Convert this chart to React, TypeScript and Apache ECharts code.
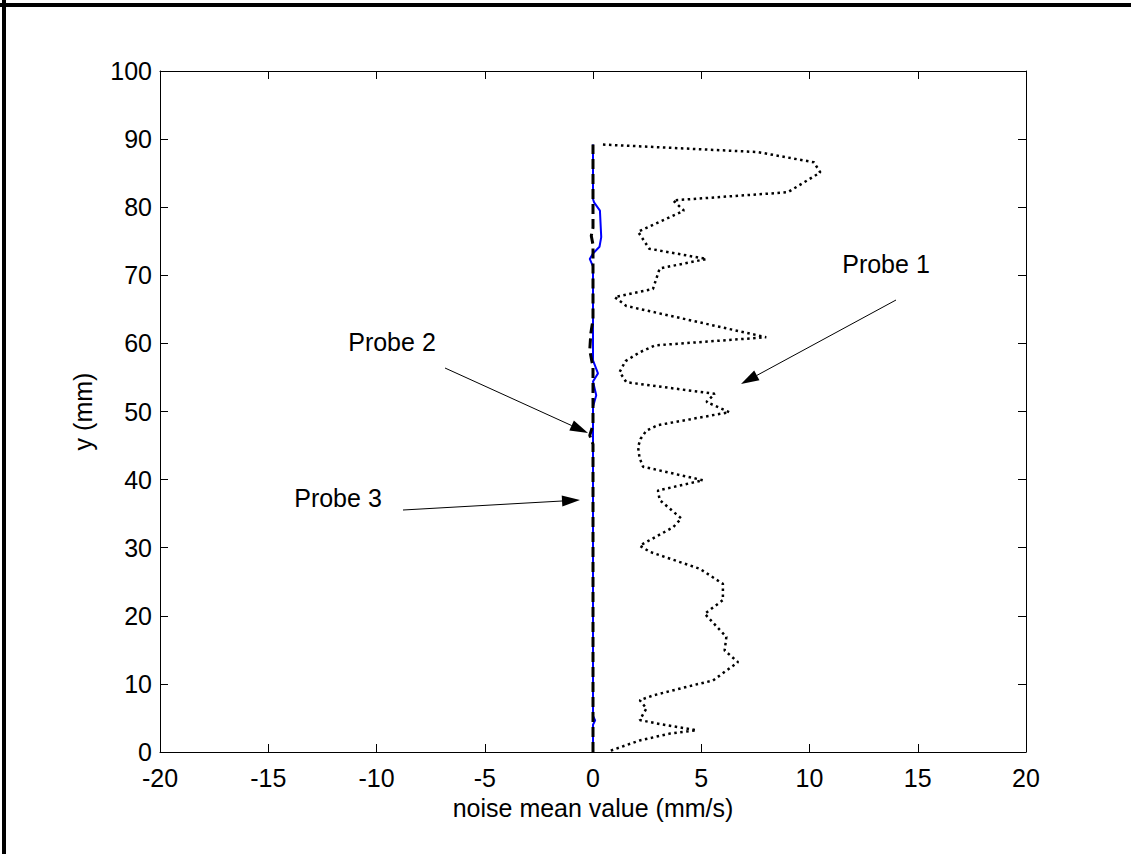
import React, { useEffect, useRef } from "react";
import * as echarts from "echarts";

const FONT = '"Liberation Sans", Arial, Helvetica, sans-serif';

// Axis ticks
const xMin = -20;
const xMax = 20;
const xStep = 5;
const yMin = 0;
const yMax = 100;
const yStep = 10;

// Probe 1 (black dotted)
const probe1X = [
  0.46, 7.6, 10.2, 10.5, 9.0, 3.7, 4.2, 2.08, 2.6, 5.24, 3.08, 2.77, 1.0, 1.54,
  8.0, 2.85, 2.16, 1.5, 1.23, 1.54, 5.62, 5.24, 6.3, 3.0, 2.47, 2.2, 2.08, 2.15,
  2.31, 5.08, 3.0, 3.08, 4.08, 3.7, 2.16, 2.62, 4.93, 6.0, 6.0, 5.16, 6.16,
  6.08, 6.7, 5.54, 4.62, 2.77, 2.16, 2.47, 2.16, 3.08, 4.78, 3.54, 2.16, 0.77,
];
const probe1Y = [
  89.2, 88.1, 86.6, 85.1, 82.2, 81.0, 79.5, 76.4, 73.9, 72.4, 71.0, 68.0, 66.8,
  65.5, 60.9, 59.7, 58.7, 57.4, 55.8, 54.3, 52.6, 51.4, 49.9, 48.0, 47.2, 46.0,
  44.8, 43.2, 41.9, 39.9, 38.4, 37.0, 34.3, 33.0, 30.3, 29.4, 26.9, 24.7, 22.3,
  20.3, 16.9, 14.9, 13.2, 10.5, 9.8, 8.3, 7.6, 6.4, 4.7, 4.1, 3.2, 2.7, 1.7,
  0.15,
];

// Probe 2 (black dashed)
const probe2X = [0, 0, -0.15, 0, 0, -0.15, -0.1, 0, 0, -0.08, 0, 0];
const probe2Y = [0, 45.2, 46.5, 48.0, 56.5, 59.0, 61.5, 63.5, 74.5, 75.8, 77.0, 89.2];

// Probe 3 (blue solid)
const probe3X = [
  0, 0, 0.1, 0, 0, 0.15, 0, 0.23, 0, 0, -0.15, 0, 0.3, 0.38, 0.32, 0.05, 0, 0,
];
const probe3Y = [
  0, 4.0, 4.65, 5.3, 50.7, 52.4, 54.4, 55.6, 57.5, 71.3, 72.4, 73.2, 74.2, 75.6,
  79.5, 80.7, 81.2, 89.2,
];

const pairs = (xs: number[], ys: number[]) => xs.map((x, i) => [x, ys[i]]);

function arrow(x1: number, y1: number, x2: number, y2: number) {
  const dx = x2 - x1;
  const dy = y2 - y1;
  const len = Math.sqrt(dx * dx + dy * dy);
  const ux = dx / len;
  const uy = dy / len;
  const hl = 18;
  const hw = 5.5;
  const bx = x2 - ux * hl;
  const by = y2 - uy * hl;
  return [
    {
      type: "line",
      shape: { x1, y1, x2: bx, y2: by },
      style: { stroke: "#000", lineWidth: 1 },
      z: 100,
    },
    {
      type: "polygon",
      shape: {
        points: [
          [x2, y2],
          [bx - uy * hw, by + ux * hw],
          [bx + uy * hw, by - ux * hw],
        ],
      },
      style: { fill: "#000" },
      z: 100,
    },
  ];
}

function label(text: string, cx: number, cy: number) {
  return {
    type: "text",
    x: cx,
    y: cy,
    z: 100,
    style: {
      text,
      fill: "#000",
      font: `25px ${FONT}`,
      align: "center",
      verticalAlign: "middle",
    },
  };
}

export default function App() {
  const ref = useRef<HTMLDivElement>(null);
  useEffect(() => {
    const chart = echarts.init(ref.current!, null, { renderer: "svg" });
    const axisCommon = {
      type: "value",
      axisLine: { show: true, onZero: false, lineStyle: { color: "#000", width: 1 } },
      axisTick: { show: true, inside: true, length: 8, lineStyle: { color: "#000" } },
      splitLine: { show: false },
    };
    const option: any = {
      animation: false,
      backgroundColor: "#fff",
      textStyle: { fontFamily: FONT },
      grid: { left: 160, right: 105, top: 71, bottom: 102, containLabel: false },
      xAxis: [
        {
          ...axisCommon,
          position: "bottom",
          min: xMin,
          max: xMax,
          interval: xStep,
          name: "noise mean value (mm/s)",
          nameLocation: "middle",
          nameGap: 42,
          nameTextStyle: { fontSize: 25, color: "#000", fontFamily: FONT },
          axisLabel: { fontSize: 25, lineHeight: 18, color: "#000", margin: 17, fontFamily: FONT },
        },
        {
          ...axisCommon,
          position: "top",
          min: xMin,
          max: xMax,
          interval: xStep,
          axisLabel: { show: false },
        },
      ],
      yAxis: [
        {
          ...axisCommon,
          position: "left",
          min: yMin,
          max: yMax,
          interval: yStep,
          name: "y (mm)",
          nameLocation: "middle",
          nameGap: 65,
          nameTextStyle: { fontSize: 25, color: "#000", fontFamily: FONT },
          axisLabel: {
            fontSize: 25,
            lineHeight: 18,
            color: "#000",
            margin: 8,
            fontFamily: FONT,
            padding: [0, 0, 4, 0],
          },
        },
        {
          ...axisCommon,
          position: "right",
          min: yMin,
          max: yMax,
          interval: yStep,
          axisLabel: { show: false },
        },
      ],
      series: [
        {
          name: "Probe 1",
          type: "line",
          data: pairs(probe1X, probe1Y),
          symbol: "none",
          lineStyle: { color: "#000", width: 2.5, type: [2.5, 3.5], cap: "butt" },
        },
        {
          name: "Probe 3",
          type: "line",
          data: pairs(probe3X, probe3Y),
          symbol: "none",
          lineStyle: { color: "#0000ff", width: 2 },
        },
        {
          name: "Probe 2",
          type: "line",
          data: pairs(probe2X, probe2Y),
          symbol: "none",
          lineStyle: { color: "#000", width: 3, type: [10, 5], cap: "butt" },
        },
      ],
      graphic: [
        {
          type: "line",
          shape: { x1: 0, y1: 5, x2: 1131, y2: 5 },
          style: { stroke: "#000", lineWidth: 4 },
        },
        {
          type: "line",
          shape: { x1: 4, y1: 0, x2: 4, y2: 854 },
          style: { stroke: "#000", lineWidth: 4 },
        },
        label("Probe 1", 886, 264),
        ...arrow(896, 300, 741, 384),
        label("Probe 2", 392, 342),
        ...arrow(445, 368, 588, 433),
        label("Probe 3", 338, 498),
        ...arrow(403, 510, 580, 500),
      ],
    };
    chart.setOption(option);
    return () => chart.dispose();
  }, []);
  return (
    <div
      ref={ref}
      style={{ position: "fixed", left: 0, top: 0, width: 1131, height: 854, background: "#fff" }}
    />
  );
}
